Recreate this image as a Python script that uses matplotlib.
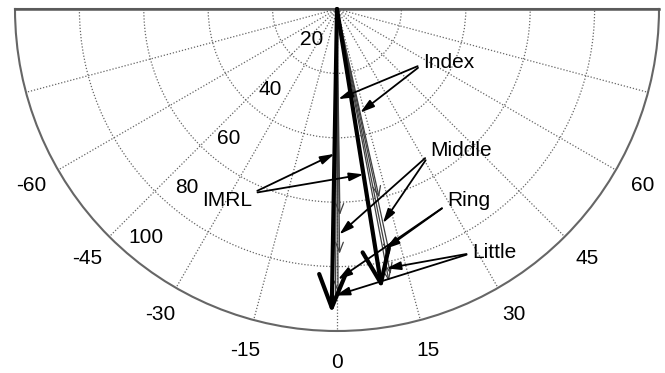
import numpy as np
import matplotlib
matplotlib.use("Agg")
import matplotlib.pyplot as plt

plt.rcParams['font.family'] = ['Liberation Sans', 'DejaVu Sans']

# direction (deg) and length of the resultant vectors
imrl_ang = [-1.0, 9.1]
imrl_len = [94.5, 88.0]

fingers = ['Index', 'Middle', 'Ring', 'Little']
ang_a = [0.8, 0.6, 0.2, -0.3]
len_a = [64, 76, 88, 91]
ang_b = [12.6, 12.1, 11.4, 10.8]
len_b = [60, 78, 84, 86]

# where each label's arrows touch its two vectors (radius along the vector)
hit_a = [28, 70, 84, 89]
hit_b = [33, 68, 76, 82]
imrl_hit = [45, 52]

# label anchors in figure pixels (left edge, vertical centre) and arrow start
label_xy = {'Index': (423, 63), 'Middle': (430, 150), 'Ring': (447, 201),
            'Little': (472, 253), 'IMRL': (202, 200)}
label_rel = {'Index': (0, 0.45), 'Middle': (0, 0.3), 'Ring': (0, 0.3),
             'Little': (0, 0.5), 'IMRL': (1, 0.85)}

theta_ticks = list(range(-75, 76, 15))
theta_labels = ['' if abs(t) == 75 else str(t) for t in theta_ticks]
r_ticks = [20, 40, 60, 80, 100]

W, H = 665, 373
fig = plt.figure(figsize=(W / 100, H / 100), dpi=100)
# square box: the lower half-disc (radius 322 px) fills its width
ax = fig.add_axes([15 / W, (H - 492) / H, 644 / W, 644 / H], projection='polar')
ax.set_theta_zero_location('S')
ax.set_thetamin(-90)
ax.set_thetamax(90)
ax.set_rlim(0, 100)

ax.set_thetagrids(theta_ticks, theta_labels, fontsize=15)
ax.set_rgrids(r_ticks[:-1], labels=[])
ax.grid(True, color='0.4', linestyle=(0, (1, 1.5)), linewidth=0.9)
ax.tick_params(axis='x', pad=12)
for s in ax.spines.values():
    s.set_color('0.4')
    s.set_linewidth(1.5)

rad = np.deg2rad

# straight edge of the half disc
ax.plot([rad(-90), rad(-90), rad(90), rad(90)], [100, 0, 0, 100],
        color='0.35', lw=1.8, clip_on=False, zorder=3)

for v in r_ticks:
    ax.text(rad(-40), v - 7.5, str(v), fontsize=15, ha='center', va='center')

# finger vectors, thin
for a, l in zip(ang_a + ang_b, len_a + len_b):
    ax.annotate('', xy=(rad(a), l), xytext=(0, 0),
                arrowprops=dict(arrowstyle='->,head_length=0.7,head_width=0.28',
                                color='0.25', lw=0.9, shrinkA=0, shrinkB=0,
                                mutation_scale=10))

# combined IMRL vectors, thick
for a, l in zip(imrl_ang, imrl_len):
    ax.annotate('', xy=(rad(a), l), xytext=(0, 0),
                arrowprops=dict(arrowstyle='->,head_length=2.4,head_width=0.95',
                                color='black', lw=3.0, shrinkA=0, shrinkB=0,
                                mutation_scale=10))


def pointer(name, targets):
    px, py = label_xy[name]
    for i, (a, r) in enumerate(targets):
        ax.annotate(name, xy=(rad(a), r), xycoords='data',
                    xytext=(px / W, 1 - py / H), textcoords='figure fraction',
                    ha='left', va='center', fontsize=15,
                    color='black' if i == 0 else 'none',
                    arrowprops=dict(arrowstyle='-|>,head_length=0.85,head_width=0.25',
                                    color='black', lw=1.3, shrinkB=0,
                                    relpos=label_rel[name], mutation_scale=10))


for k, name in enumerate(fingers):
    pointer(name, [(ang_a[k], hit_a[k]), (ang_b[k], hit_b[k])])
pointer('IMRL', [(imrl_ang[0], imrl_hit[0]), (imrl_ang[1], imrl_hit[1])])

fig.savefig('out.png', dpi=100)
